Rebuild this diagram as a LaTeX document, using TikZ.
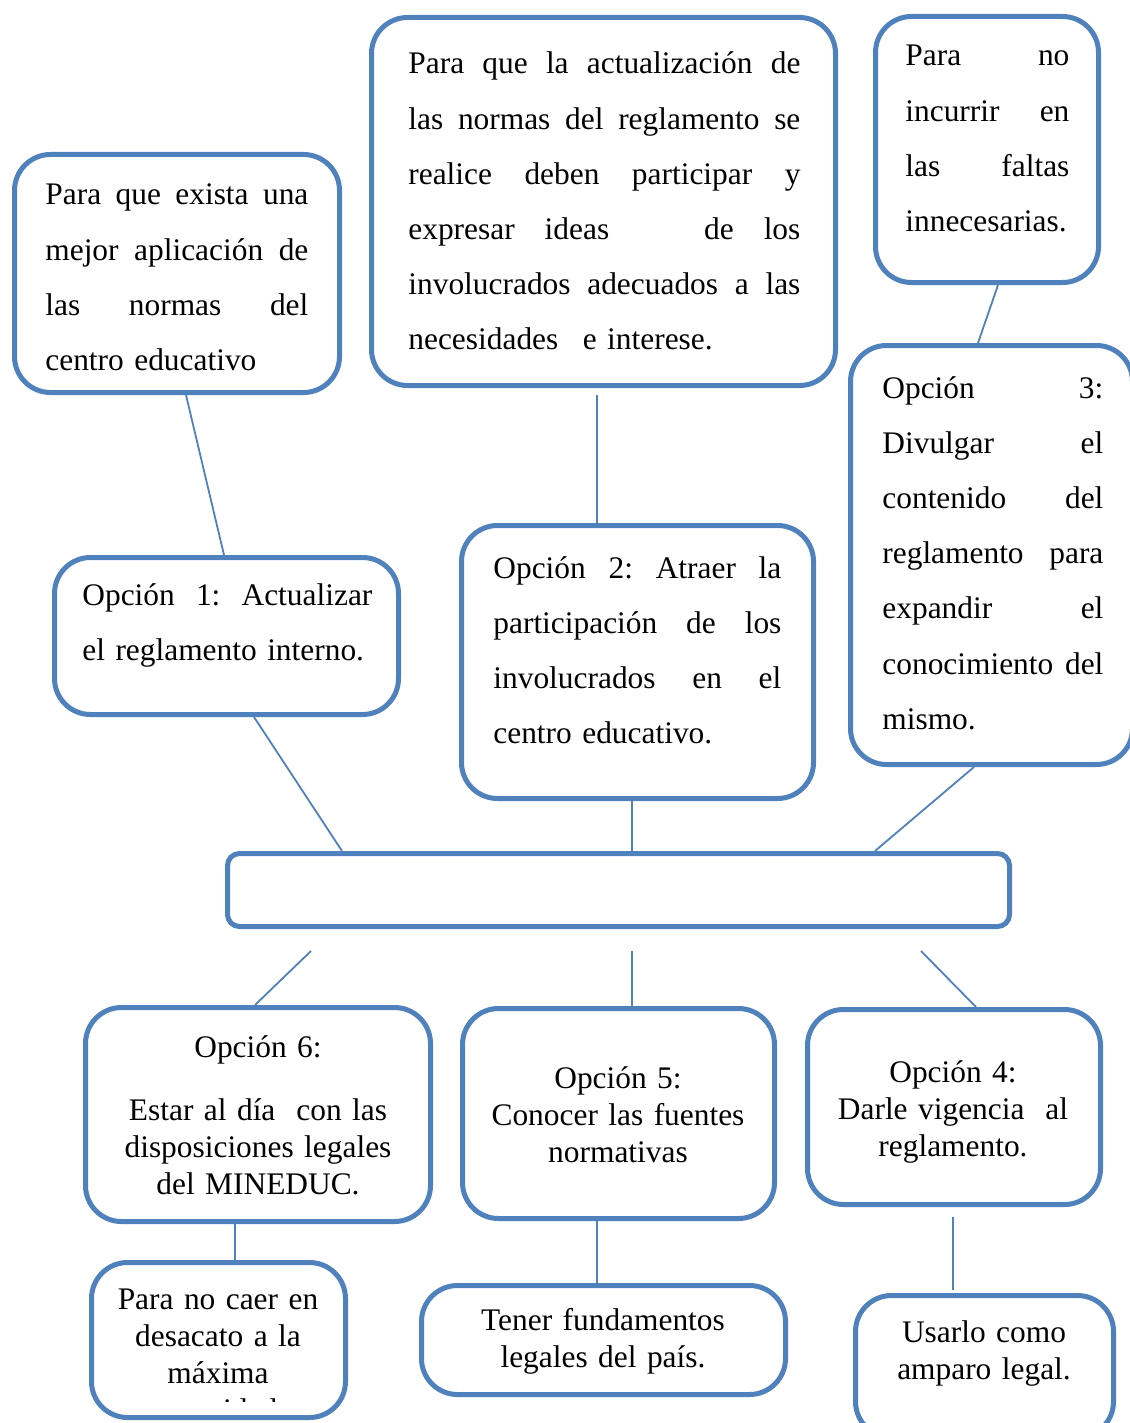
\documentclass[tikz,border=0pt]{standalone}
\usepackage{fontspec}
\setmainfont{Liberation Serif}
\definecolor{bline}{HTML}{4F81BD}
\begin{document}
\begin{tikzpicture}[x=0.5pt,y=-0.5pt,
  box/.style={draw=bline,line width=2.5pt,rounded corners=18pt,inner sep=0pt,fill=white},
  flatbox/.style={draw=bline,line width=2.5pt,rounded corners=6pt,inner sep=0pt,fill=white},
  conn/.style={draw=bline,line width=0.9pt},
  jtext/.style={anchor=base west,inner sep=0pt,align=left,font=\fontsize{15.7pt}{27.6pt}\selectfont},
  ctext/.style={anchor=base,inner sep=0pt,align=center,font=\fontsize{15.7pt}{18.5pt}\selectfont}]
\useasboundingbox (0,0) rectangle (1129,1423);
% boxes
\node[box,minimum width=162.5pt,minimum height=119pt] (tl) at (177,273.5) {};
\node[box,minimum width=232pt,minimum height=184pt] (tm) at (603.5,201.5) {};
\node[box,minimum width=111.5pt,minimum height=133pt] (tr) at (987,149.5) {};
\node[box,minimum width=141pt,minimum height=209.5pt] (o3) at (991.5,555) {};
\node[box,minimum width=172pt,minimum height=78.5pt] (o1) at (226.5,636) {};
\node[box,minimum width=176pt,minimum height=136.5pt] (o2) at (637.5,662) {};
\node[flatbox,minimum width=391pt,minimum height=36.5pt] (c) at (618.5,890) {};
\node[box,minimum width=172.5pt,minimum height=107pt] (o6) at (258,1114.5) {};
\node[box,minimum width=156pt,minimum height=105pt] (o5) at (618.5,1113.5) {};
\node[box,minimum width=146.5pt,minimum height=97.5pt] (o4) at (954,1107) {};
\node[box,minimum width=127pt,minimum height=77.5pt] (bl) at (218.5,1340) {};
\node[box,minimum width=182pt,minimum height=54.5pt] (bm) at (603.5,1340) {};
\node[box,minimum width=129pt,minimum height=71pt] (br) at (984.5,1366.5) {};
% texts
\node[jtext,text width=131.5pt] (ttl) at (45,205) {Para\hfill que\hfill exista\hfill una\\
mejor\hfill aplicación\hfill de\\
las\hfill normas\hfill del\\
centro educativo};
\node[jtext,text width=196pt] (ttm) at (408,74) {Para\hfill que\hfill la\hfill actualización\hfill de\\
las\hfill normas\hfill del\hfill reglamento\hfill se\\
realice\hfill deben\hfill participar\hfill y\\
expresar\hspace{15pt}ideas\hfill de\hspace{15pt}los\\
involucrados\hfill adecuados\hfill a\hfill las\\
necesidades\hspace{7pt} e interese.};
\node[jtext,text width=82pt] (ttr) at (905,66) {Para\hfill no\\
incurrir\hfill en\\
las\hfill faltas\\
innecesarias.};
\node[jtext,text width=110.5pt] (to3) at (882,398) {Opción\hfill 3:\\
Divulgar\hfill el\\
contenido\hfill del\\
reglamento\hfill para\\
expandir\hfill el\\
conocimiento\hfill del\\
mismo.};
\node[jtext,text width=145pt] (to1) at (82,605) {Opción\hfill 1:\hfill Actualizar\\
el reglamento interno.};
\node[jtext,text width=144pt] (to2) at (493,578) {Opción\hfill 2:\hfill Atraer\hfill la\\
participación\hfill de\hfill los\\
involucrados\hfill en\hfill el\\
centro educativo.};
\node[ctext,text width=170pt] (to6) at (258,1057) {Opción 6:\\[13pt]
Estar al día\ \ con las\\
disposiciones legales\\
del MINEDUC.};
\node[ctext,text width=155pt] (to5) at (618,1088) {Opción 5:\\
Conocer las fuentes\\
normativas};
\node[ctext,text width=145pt] (to4) at (953,1082) {Opción 4:\\
Darle vigencia\ \ al\\
reglamento.};
\begin{scope}
\clip (89,1262) rectangle (348,1401);
\node[ctext,text width=125pt] (tbl) at (218,1309) {Para no caer en\\
desacato a la\\
máxima\\
autoridad};
\end{scope}
\node[ctext,text width=180pt] (tbm) at (603,1330) {Tener fundamentos\\
legales del país.};
\node[ctext,text width=128pt] (tbr) at (984,1342) {Usarlo como\\
amparo legal.};
% connectors
\coordinate (g1) at (311,951);
\coordinate (g2) at (632,951);
\coordinate (g3) at (921,951);
\coordinate (g4) at (953,1217);
\draw[conn] ([xshift=4.5pt]tl.south) -- ([xshift=-1.25pt]o1.north);
\draw[conn,shorten <=3.5pt] ([xshift=-3.25pt]tm.south) -- ([xshift=-20.25pt]o2.north);
\draw[conn] ([xshift=5.5pt]tr.south) -- ([xshift=-6.75pt]o3.north);
\draw[conn] ([xshift=13.75pt]o1.south) -- ([xshift=-138.25pt]c.north);
\draw[conn] ([xshift=-2.75pt]o2.south) -- ([xshift=6.75pt]c.north);
\draw[conn] ([xshift=-8.75pt]o3.south) -- ([xshift=128.25pt]c.north);
\draw[conn] (g1) -- ([xshift=-1.5pt]o6.north);
\draw[conn] (g2) -- ([xshift=6.75pt]o5.north);
\draw[conn] (g3) -- ([xshift=11pt]o4.north);
\draw[conn] ([xshift=-11.5pt]o6.south) -- ([xshift=8.25pt]bl.north);
\draw[conn] ([xshift=-10.75pt]o5.south) -- ([xshift=-3.25pt]bm.north);
\draw[conn,shorten >=1.5pt] (g4) -- ([xshift=-15.75pt]br.north);
\end{tikzpicture}
\end{document}
